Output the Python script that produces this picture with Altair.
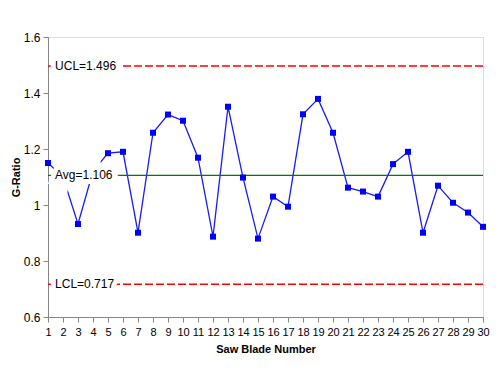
import altair as alt
import pandas as pd

blade = list(range(1, 31))
g_ratio = [1.150, 1.100, 0.932, 1.120, 1.185, 1.190, 0.901, 1.258, 1.323, 1.301,
           1.169, 0.887, 1.351, 1.098, 0.880, 1.030, 0.994, 1.324, 1.379, 1.258,
           1.062, 1.048, 1.030, 1.146, 1.190, 0.901, 1.069, 1.008, 0.973, 0.922]

limit_names = ["UCL", "Avg", "LCL"]
limit_values = [1.496, 1.106, 0.717]
limit_labels = ["UCL=1.496", "Avg=1.106", "LCL=0.717"]

y_ticks = [0.6, 0.8, 1.0, 1.2, 1.4, 1.6]

FONT = "Liberation Sans"

df = pd.DataFrame({"blade": blade, "g": g_ratio})
lim = pd.DataFrame({"name": limit_names, "value": limit_values, "label": limit_labels})
lim["xt"] = 1.47

xscale = alt.Scale(domain=[1, 30], nice=False, zero=False)
yscale = alt.Scale(domain=[0.6, 1.6], nice=False, zero=False)

xaxis = alt.Axis(values=blade, title="Saw Blade Number", grid=False,
                 domainColor="#868686", tickColor="#868686", tickSize=5,
                 labelFont=FONT, labelFontSize=11, labelColor="#000000", labelPadding=4,
                 labelOverlap=False, labelFlush=False, labelBound=False,
                 titleFont=FONT, titleFontSize=11, titleFontWeight="bold",
                 titleColor="#000000", titlePadding=6)
yaxis = alt.Axis(values=y_ticks, format="~g", title="G-Ratio", grid=False,
                 domainColor="#868686", tickColor="#868686", tickSize=5,
                 labelFont=FONT, labelFontSize=12, labelColor="#000000", labelPadding=3,
                 labelOverlap=False,
                 titleFont=FONT, titleFontSize=11, titleFontWeight="bold",
                 titleColor="#000000", titlePadding=2)

def X(field):
    return alt.X(field, scale=xscale, axis=xaxis)

def Y(field):
    return alt.Y(field, scale=yscale, axis=yaxis)

line = alt.Chart(df).mark_line(color="#1A1AFF", strokeWidth=1.3).encode(
    x=X("blade:Q"), y=Y("g:Q")
)
pts = alt.Chart(df).mark_point(shape="square", filled=True, size=36, color="#0000FF", opacity=1).encode(
    x=X("blade:Q"), y=Y("g:Q")
)

dashed = alt.Chart(lim[lim["name"] != "Avg"]).mark_rule(
    color="#FF0000", strokeWidth=1.5, strokeDash=[8, 3]
).encode(y=Y("value:Q"))

avg = alt.Chart(lim[lim["name"] == "Avg"]).mark_rule(
    color="#007A00", strokeWidth=1.3
).encode(y=Y("value:Q"))

# white halo behind the labels, standing in for the label boxes
halo = alt.Chart(lim).mark_text(align="left", baseline="middle", font=FONT, fontSize=12,
                                stroke="#FFFFFF", strokeWidth=10, strokeJoin="miter",
                                color="#FFFFFF").encode(
    x=X("xt:Q"), y=Y("value:Q"), text="label:N"
)
texts = alt.Chart(lim).mark_text(align="left", baseline="middle", font=FONT, fontSize=12,
                                 color="#000000").encode(
    x=X("xt:Q"), y=Y("value:Q"), text="label:N"
)

chart = alt.layer(line, dashed, avg, pts, halo, texts).properties(
    width=435, height=280,
    autosize=alt.AutoSizeParams(type="none"),
    padding={"left": 40, "top": 29, "right": 8, "bottom": 40},
).configure_view(strokeWidth=0).configure(background="white")

chart.save("out.html", embed_options={"renderer": "svg", "actions": False})
